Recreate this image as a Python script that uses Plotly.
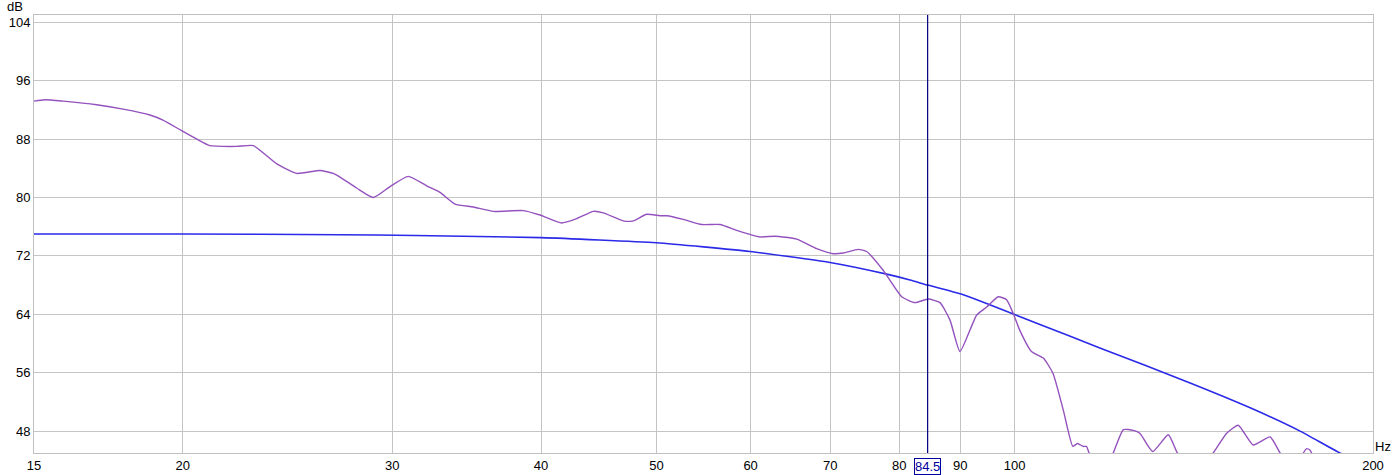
import math
import plotly.graph_objects as go

# ---- data ----
meas_hz = [15.0, 15.32, 15.87, 16.93, 17.82, 18.77, 19.25, 19.96, 20.55, 21.08, 22.2, 22.93,
           23.99, 24.93, 26.08, 26.76, 27.11, 28.0, 28.92, 29.87, 30.94, 32.06, 32.9, 33.87,
           35.09, 36.47, 38.65, 39.92, 41.63, 42.86, 44.26, 45.12, 46.9, 47.82, 49.07, 50.35,
           51.01, 52.67, 54.58, 56.55, 58.41, 61.1, 62.9, 65.6, 68.18, 70.4, 71.78, 73.9, 75.1,
           77.56, 80.37, 82.46, 84.6, 86.55, 88.24, 89.96, 92.91, 94.73, 96.87, 98.45, 99.72,
           101.0, 103.3, 105.7, 107.7, 109.85, 111.9, 112.9, 114.2, 114.9, 115.5, 117.5, 119.5,
           121.0, 123.4, 125.8, 127.4, 130.6, 134.6, 137.0, 139.5, 144.0, 146.8, 150.7, 154.1,
           158.6, 163.9, 167.1, 169.5, 173.0, 174.8, 175.9, 177.0, 177.6, 179.5, 185.0, 200.0]
meas_db = [93.2, 93.4, 93.2, 92.7, 92.1, 91.3, 90.6, 89.15, 88.0, 87.1, 87.0, 87.1,
           84.6, 83.3, 83.7, 83.3, 82.8, 81.3, 80.0, 81.5, 82.9, 81.6, 80.7, 79.1,
           78.7, 78.1, 78.2, 77.6, 76.5, 77.1, 78.1, 77.9, 76.8, 76.8, 77.7, 77.5,
           77.5, 77.0, 76.3, 76.3, 75.5, 74.6, 74.7, 74.3, 73.0, 72.3, 72.4, 72.9, 72.6,
           70.0, 66.4, 65.6, 66.1, 65.6, 63.2, 58.9, 63.9, 65.0, 66.4, 66.0, 64.1,
           61.8, 58.9, 58.0, 55.9, 50.9, 45.9, 46.3, 45.9, 45.9, 45.0, 43.5, 43.5,
           45.0, 48.2, 48.1, 47.7, 45.2, 47.5, 45.0, 43.5, 43.5, 45.0, 47.7, 48.8,
           46.1, 47.2, 45.0, 43.5, 43.5, 45.0, 45.6, 45.4, 45.0, 43.0, 42.0, 40.0]

model_hz = [15.0, 20.0, 27.1, 31.35, 40.0, 50.0, 59.9, 69.96, 78.07, 81.67, 84.5, 90.0,
            95.3, 105.0, 117.9, 140.4, 157.7, 173.7, 187.6, 200.0]
model_db = [75.0, 75.0, 74.9, 74.8, 74.5, 73.8, 72.6, 71.1, 69.5, 68.7, 68.0, 66.8,
            65.3, 62.6, 59.4, 54.6, 51.2, 48.0, 45.0, 43.0]

cursor_hz = 84.5
x_ticks = [15, 20, 30, 40, 50, 60, 70, 80, 90, 100, 200]
y_ticks = [48, 56, 64, 72, 80, 88, 96, 104]
y_range = [45, 105]
x_range = [15, 200]

FONT = "Liberation Sans, Arial, sans-serif"
FS = 13

fig = go.Figure()
fig.add_trace(go.Scatter(x=model_hz, y=model_db, mode="lines",
                         line=dict(color="#2a2ae8", width=1.6, shape="spline", smoothing=0.5),
                         hoverinfo="skip"))
fig.add_trace(go.Scatter(x=meas_hz, y=meas_db, mode="lines",
                         line=dict(color="#9452be", width=1.4, shape="spline", smoothing=0.5),
                         hoverinfo="skip"))
fig.add_trace(go.Scatter(x=[cursor_hz, cursor_hz], y=y_range, mode="lines",
                         line=dict(color="#000080", width=1.2), hoverinfo="skip"))

fig.add_annotation(x=math.log10(cursor_hz), xref="x", y=0, yref="paper",
                   yanchor="top", yshift=-5, text="84.5", showarrow=False,
                   font=dict(family=FONT, size=FS, color="#0000a0"),
                   bordercolor="#0000a0", borderwidth=1, borderpad=0, bgcolor="white")
fig.add_annotation(x=0, xref="paper", y=1, yref="paper", xanchor="right", yanchor="bottom",
                   xshift=-9, yshift=-1, text="dB", showarrow=False,
                   font=dict(family=FONT, size=FS, color="black"))
fig.add_annotation(x=1, xref="paper", y=0, yref="paper", xanchor="left", yanchor="middle",
                   xshift=0, yshift=7, text="Hz", showarrow=False,
                   font=dict(family=FONT, size=FS, color="black"))

fig.update_layout(
    width=1398, height=475,
    margin=dict(l=34, r=25, t=15, b=22, autoexpand=False),
    paper_bgcolor="white", plot_bgcolor="white",
    showlegend=False,
    font=dict(family=FONT, size=FS, color="black"),
    xaxis=dict(type="log", range=[math.log10(x_range[0]), math.log10(x_range[1])],
               tickvals=x_ticks, ticktext=[str(v) for v in x_ticks], automargin=False,
               showgrid=True, gridcolor="#c4c4c4", gridwidth=1,
               showline=True, linecolor="#c0c0c0", linewidth=1, mirror=True,
               ticks="", zeroline=False,
               tickfont=dict(family=FONT, size=FS, color="black")),
    yaxis=dict(range=y_range, tickvals=y_ticks, automargin=False,
               showgrid=True, gridcolor="#c4c4c4", gridwidth=1,
               showline=True, linecolor="#c0c0c0", linewidth=1, mirror=True,
               ticks="", zeroline=False,
               tickfont=dict(family=FONT, size=FS, color="black")),
)

fig.write_html("out.html", config={"displayModeBar": False, "staticPlot": True},
               post_script="document.body.style.margin='0px'; document.body.style.overflow='hidden';")
